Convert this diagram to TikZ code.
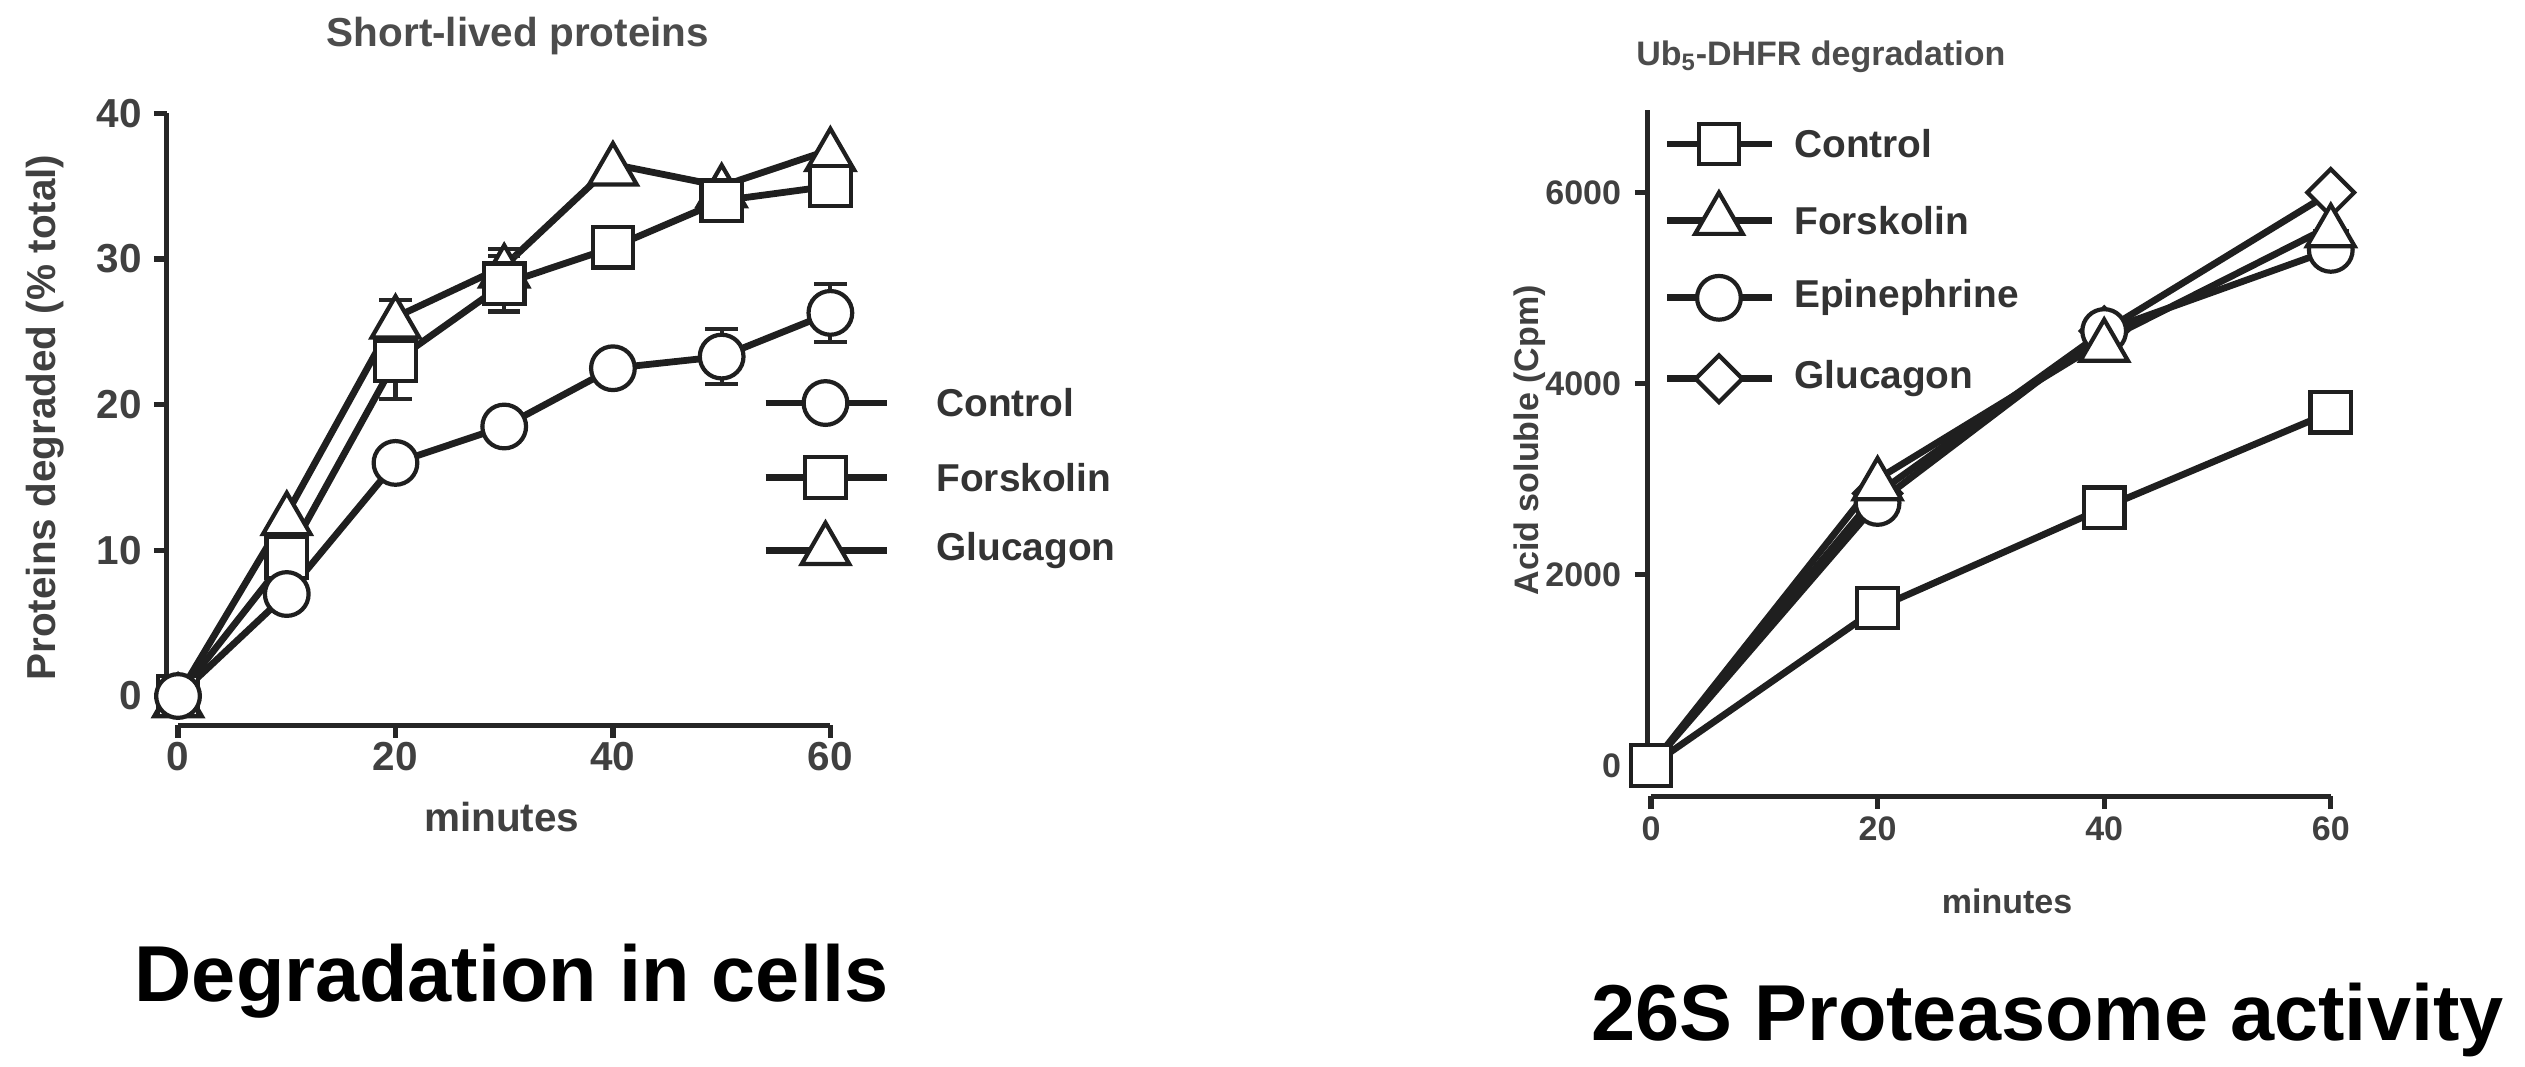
\documentclass[tikz,border=0pt]{standalone}
\usepackage{fontspec}
\setmainfont{Liberation Sans}
\usetikzlibrary{shapes.geometric}
\begin{document}
\begin{tikzpicture}[x=1pt,y=-1pt,
  ax/.style={line width=3.2pt,black!85},
  dl/.style={line width=4.2pt,black!88},
  mk/.style={draw=black!88,fill=white,line width=2.6pt,inner sep=0pt},
  mcirc/.style={mk,circle,minimum size=27pt},
  msq/.style={mk,rectangle,minimum size=25pt},
  mtri/.style={mk,regular polygon,regular polygon sides=3,minimum size=34pt},
  mdia/.style={mk,diamond,minimum size=30pt},
  tk/.style={font=\bfseries\fontsize{25}{25}\selectfont,text=black!75},
  tkr/.style={font=\bfseries\fontsize{21}{21}\selectfont,text=black!75},
  lg/.style={font=\bfseries\fontsize{24}{24}\selectfont,text=black!80,anchor=west},
  big/.style={font=\bfseries\fontsize{49}{49}\selectfont}]
\useasboundingbox (0,0) rectangle (1560,658.6);
% ---------- left plot ----------
\node[tk,text=black!70] (t1) at (320,22) {Short-lived proteins};
\draw[ax] (103,70) -- (103,430);
\foreach \v/\p in {0/430,10/340,20/250,30/160,40/70}{
  \draw[ax] (95,\p) -- (103,\p);
  \node[tk,anchor=east] (ly\v) at (91,\p) {\v};}
\draw[ax] (110,448) -- (513,448);
\foreach \t in {0,20,40,60}{
  \draw[ax] ({110+6.717*\t},448) -- ({110+6.717*\t},456);
  \node[tk,anchor=north] (lx\t) at ({110+6.717*\t},455) {\t};}
\node[tk] (lxl) at (310,505) {minutes};
\node[tk,rotate=90] (lyl) at (28,258) {Proteins degraded (\% total)};
% data
\foreach \n/\d in {c/{0/0,1/7,2/16,3/18.5,4/22.5,5/23.3,6/26.3},
                   f/{0/0,1/9.5,2/23,3/28.3,4/30.8,5/34,6/35},
                   g/{0/0,1/12.5,2/26,3/29.5,4/36.5,5/35,6/37.5}}{
  \foreach \i/\v in \d {\coordinate (L\n\i) at ({110+67.17*\i},{430-9*\v});}}
\foreach \n in {c,f,g}{
  \draw[dl] (L\n0) -- (L\n1) -- (L\n2) -- (L\n3) -- (L\n4) -- (L\n5) -- (L\n6);}
% error bars
\foreach \c/\e in {c5/1.9,c6/2.0,f2/2.6,f3/1.9,f5/1.2,g2/1.2,g3/1.2}{
  \draw[line width=2.6pt,black!85] ([yshift=-9*\e]L\c) -- ([yshift=9*\e]L\c)
    ([xshift=-10,yshift=-9*\e]L\c) -- ([xshift=10,yshift=-9*\e]L\c)
    ([xshift=-10,yshift=9*\e]L\c) -- ([xshift=10,yshift=9*\e]L\c);}
\foreach \i in {0,...,6}{
  \node[mtri] (Mg\i) at ([yshift=-4]Lg\i) {};
  \node[msq] (Mf\i) at (Lf\i) {};
  \node[mcirc] (Mc\i) at (Lc\i) {};}
% legend
\foreach \n/\s/\y/\txt in {c/mcirc/249/Control,f/msq/295/Forskolin,g/mtri/340/Glucagon}{
  \coordinate (la\n) at (473,\y); \coordinate (lb\n) at (548,\y);
  \draw[dl] (la\n) -- (lb\n);
  \node[\s] (lm\n) at (510,\y) {};
  \node[lg] (lt\n) at (575,\y) {\txt};}
\node[big] (B1) at (316,606) {Degradation in cells};
% ---------- right plot ----------
\node[tkr,text=black!70] (t2) at (1125,35) {Ub$_{\mathbf 5}$-DHFR degradation};
\draw[ax] (1018,68) -- (1018,473);
\foreach \v/\p in {0/473,2000/355,4000/237,6000/119}{
  \draw[ax] (1010,\p) -- (1018,\p);
  \node[tkr,anchor=east] (ry\v) at (1005,\p) {\v};}
\draw[ax] (1020,492) -- (1440,492);
\foreach \t in {0,20,40,60}{
  \draw[ax] ({1020+7*\t},492) -- ({1020+7*\t},500);
  \node[tkr,anchor=north] (rx\t) at ({1020+7*\t},501) {\t};}
\node[tkr] (rxl) at (1240,557) {minutes};
\node[tkr,rotate=90] (ryl) at (945,272) {Acid soluble (Cpm)};
\foreach \n/\d in {c/{0/0,1/1650,2/2700,3/3700},
                   f/{0/0,1/3000,2/4450,3/5650},
                   e/{0/0,1/2750,2/4550,3/5400},
                   g/{0/0,1/2850,2/4550,3/6000}}{
  \foreach \i/\v in \d {\coordinate (R\n\i) at ({1020+140*\i},{473-0.059*\v});}}
\foreach \n in {c,f,e,g}{
  \draw[dl] (R\n0) -- (R\n1) -- (R\n2) -- (R\n3);}
\draw[line width=2.6pt,black!85] ([yshift=-15]Rg3) -- ([yshift=-24]Rg3)
  ([xshift=-11,yshift=-24]Rg3) -- ([xshift=11,yshift=-24]Rg3);
\foreach \i in {1,2,3}{
  \node[mdia] (Ng\i) at (Rg\i) {};
  \node[mcirc] (Ne\i) at (Re\i) {};
  \node[mtri] (Nf\i) at ([yshift=-4]Rf\i) {};}
\foreach \i in {0,...,3}{\node[msq] (Nc\i) at (Rc\i) {};}
\foreach \n/\s/\y/\txt in {c/msq/89/Control,f/mtri/136/Forskolin,e/mcirc/184/Epinephrine,g/mdia/234/Glucagon}{
  \coordinate (ra\n) at (1030,\y); \coordinate (rb\n) at (1095,\y);
  \draw[dl] (ra\n) -- (rb\n);
  \node[\s] (rm\n) at (1062,\y) {};
  \node[lg] (rt\n) at (1105,\y) {\txt};}
\node[big] (B2) at (1265,630) {26S Proteasome activity};
\end{tikzpicture}
\end{document}
